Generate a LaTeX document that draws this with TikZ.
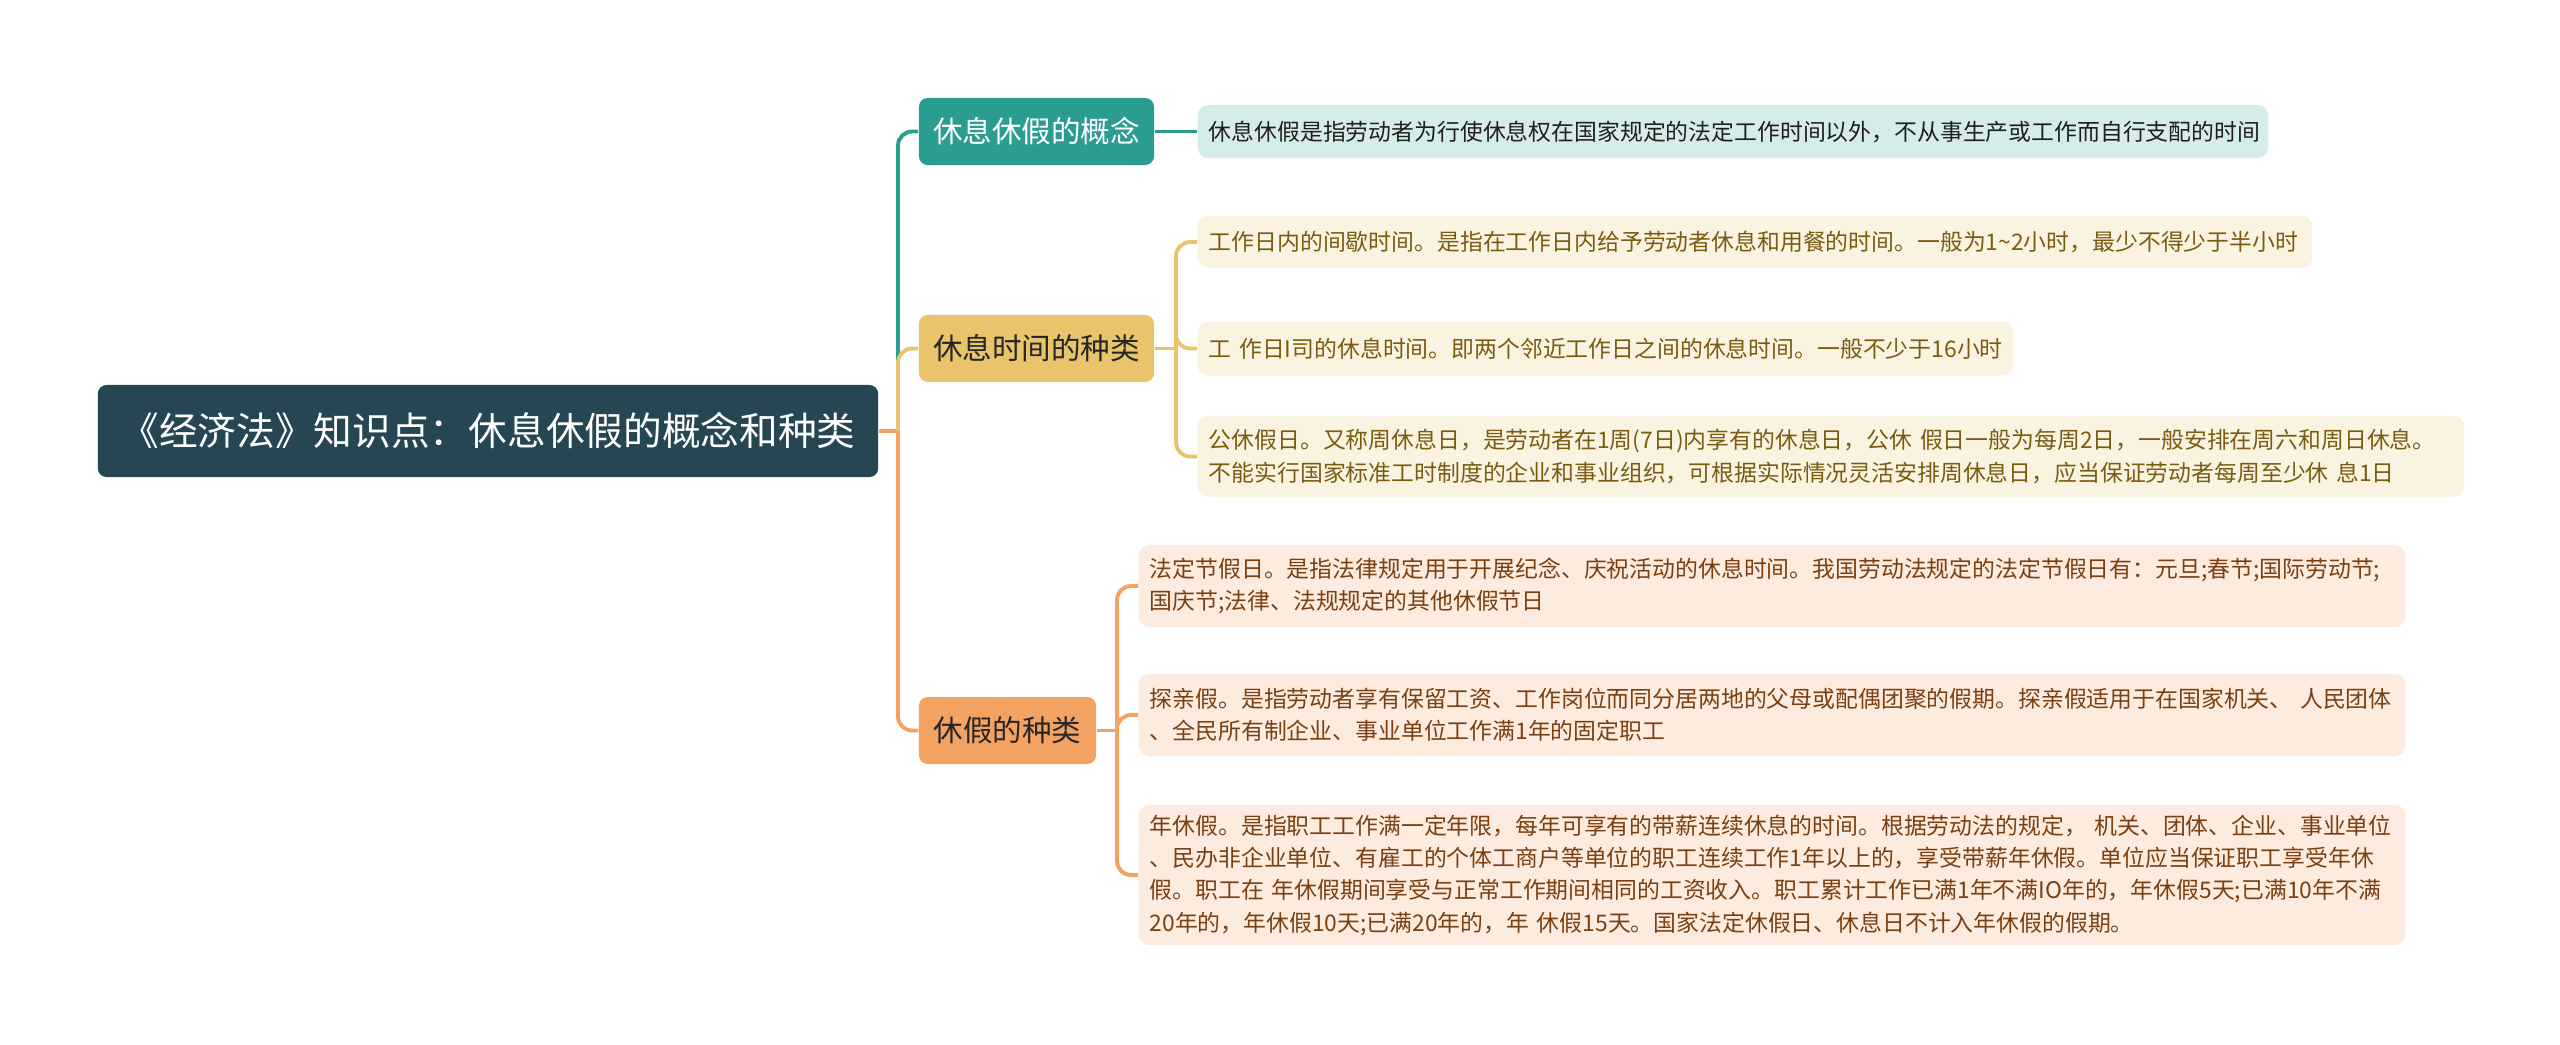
\documentclass[tikz,border=0pt]{standalone}
\usepackage{fontspec}
\setmainfont{Noto Sans CJK SC}

\definecolor{rootcol}{HTML}{264653}
\definecolor{tealc}{HTML}{2A9D8F}
\definecolor{yellowc}{HTML}{E9C46A}
\definecolor{orangec}{HTML}{F4A261}
\definecolor{tealpale}{HTML}{D5ECE8}
\definecolor{yellowpale}{HTML}{FBF3E1}
\definecolor{orangepale}{HTML}{FDEBE0}
\definecolor{yellowtxt}{HTML}{7A5C10}
\definecolor{orangetxt}{HTML}{7B3F12}

\begin{document}
\begin{tikzpicture}[x=0.01cm, y=-0.01cm,
    rootbox/.style={fill=rootcol, text=white, rounded corners=2.5pt, minimum width=7.8cm, minimum height=0.92cm, font=\fontsize{11}{13}\selectfont},
    topic/.style={rounded corners=2.5pt, inner xsep=0pt, minimum height=0.67cm, font=\fontsize{8.4}{10}\selectfont},
    leaf/.style={rounded corners=3pt, anchor=west, align=left, inner xsep=0.11cm, inner ysep=0pt, font=\fontsize{6.5}{9.2}\selectfont},
    link/.style={line width=1.1pt, rounded corners=4pt}]
        \useasboundingbox (0,0) rectangle (2560,1044);

        \node[rootbox] (root) at (488,431) {《经济法》知识点：休息休假的概念和种类};

        \node[topic, fill=tealc, text=white, minimum width=2.35cm] (concept) at (1036.5,131.5) {休息休假的概念};
        \node[topic, fill=yellowc, text=black!85, minimum width=2.35cm] (resttypes) at (1036.5,348.5) {休息时间的种类};
        \node[topic, fill=orangec, text=black!85, minimum width=1.77cm] (leavetypes) at (1007.5,730.5) {休假的种类};

        \node[leaf, fill=tealpale, text=black!88, text width=10.48cm, minimum height=0.53cm] (def) at (1197,131.5) {休息休假是指劳动者为行使休息权在国家规定的法定工作时间以外，不从事生产或工作而自行支配的时间};

        \node[leaf, fill=yellowpale, text=yellowtxt, text width=10.92cm, minimum height=0.52cm] (work) at (1197,242) {工作日内的间歇时间。是指在工作日内给予劳动者休息和用餐的时间。一般为1\textasciitilde 2小时，最少不得少于半小时};
        \node[leaf, fill=yellowpale, text=yellowtxt, text width=7.93cm, minimum height=0.54cm] (daily) at (1197,348.5) {工~作日I司的休息时间。即两个邻近工作日之间的休息时间。一般不少于16小时};
        \node[leaf, fill=yellowpale, text=yellowtxt, text width=12.44cm, minimum height=0.81cm] (weekly) at (1197,456.5) {公休假日。又称周休息日，是劳动者在1周(7日)内享有的休息日，公休~假日一般为每周2日，一般安排在周六和周日休息。\\不能实行国家标准工时制度的企业和事业组织，可根据实际情况灵活安排周休息日，应当保证劳动者每周至少休~息1日};

        \node[leaf, fill=orangepale, text=orangetxt, text width=12.44cm, minimum height=0.82cm] (holiday) at (1138,586) {法定节假日。是指法律规定用于开展纪念、庆祝活动的休息时间。我国劳动法规定的法定节假日有：元旦;春节;国际劳动节;\\国庆节;法律、法规规定的其他休假节日};
        \node[leaf, fill=orangepale, text=orangetxt, text width=12.44cm, minimum height=0.82cm] (family) at (1138,715) {探亲假。是指劳动者享有保留工资、工作岗位而同分居两地的父母或配偶团聚的假期。探亲假适用于在国家机关、~人民团体\\、全民所有制企业、事业单位工作满1年的固定职工};
        \node[leaf, fill=orangepale, text=orangetxt, text width=12.44cm, minimum height=1.4cm] (annual) at (1138,875) {年休假。是指职工工作满一定年限，每年可享有的带薪连续休息的时间。根据劳动法的规定，~机关、团体、企业、事业单位\\、民办非企业单位、有雇工的个体工商户等单位的职工连续工作1年以上的，享受带薪年休假。单位应当保证职工享受年休\\假。职工在~年休假期间享受与正常工作期间相同的工资收入。职工累计工作已满1年不满IO年的，年休假5天;已满10年不满\\20年的，年休假10天;已满20年的，年~休假15天。国家法定休假日、休息日不计入年休假的假期。};

        \coordinate (hub) at (898,431);
        \coordinate (resthub) at (1176,348.5);
        \coordinate (leavehub) at (1117,730.5);

        \draw[link, draw=orangec] (root.east) -- (hub);
        \draw[link, draw=tealc] (hub) |- (concept.west);
        \draw[link, draw=yellowc] (hub) |- (resttypes.west);
        \draw[link, draw=orangec] (hub) |- (leavetypes.west);

        \draw[link, draw=tealc] (concept) -- (def);

        \draw[link, draw=yellowc] (resttypes.east) -- (resthub);
        \foreach \n in {work, daily, weekly}
            \draw[link, draw=yellowc] (resthub) |- (\n.west);

        \draw[link, draw=orangec] (leavetypes.east) -- (leavehub);
        \foreach \n in {holiday, family, annual}
            \draw[link, draw=orangec] (leavehub) |- (\n.west);
    \end{tikzpicture}
\end{document}
